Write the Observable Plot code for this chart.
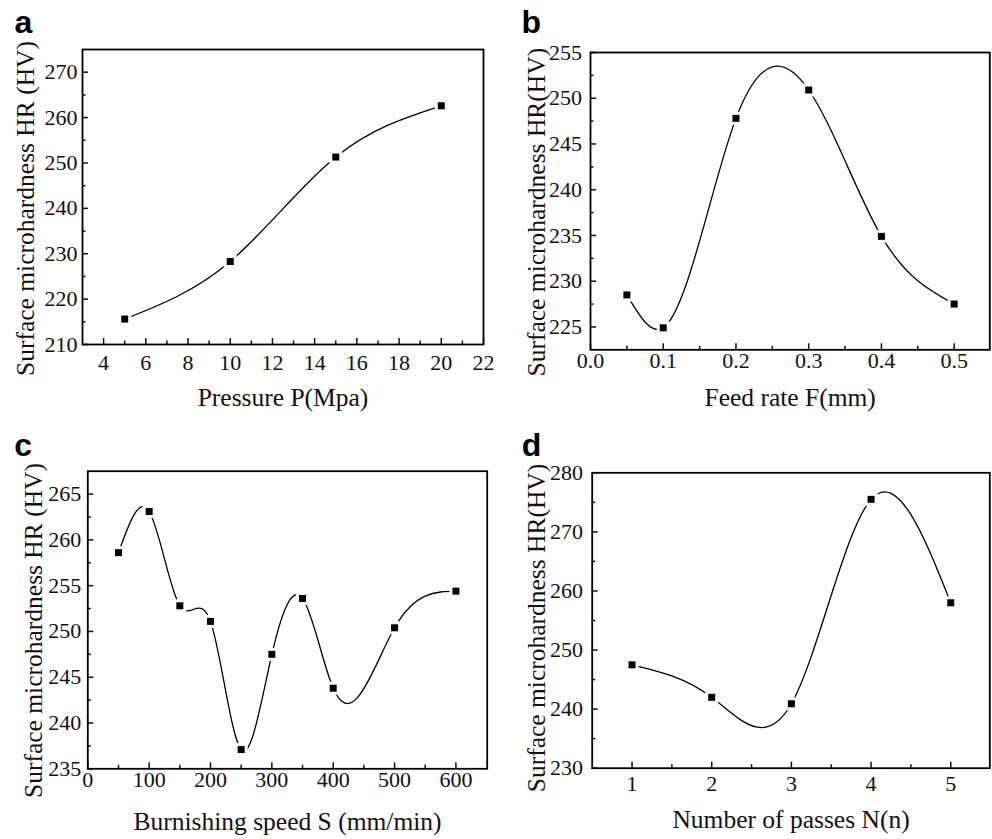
<!DOCTYPE html>
<html><head><meta charset="utf-8">
<script src="https://cdn.jsdelivr.net/npm/d3@7"></script>
<script src="https://cdn.jsdelivr.net/npm/@observablehq/plot@0.6"></script>
<style>
body{margin:0;background:#fff;}
#wrap{position:relative;width:992px;height:839px;overflow:hidden;background:#fff;}
#wrap > svg{position:absolute;}
</style></head><body><div id="wrap"></div>
<script>
// Panel a
const pressure = [5, 10, 15, 20];
const hardnessA = [215.6, 228.3, 251.3, 262.6];
// Panel b
const feedRate = [0.05, 0.1, 0.2, 0.3, 0.4, 0.5];
const hardnessB = [228.5, 224.9, 247.8, 250.9, 234.9, 227.5];
// Panel c
const speed = [50, 100, 150, 200, 250, 300, 350, 400, 500, 600];
const hardnessC = [258.6, 263.1, 252.8, 251.1, 237.1, 247.5, 253.6, 243.8, 250.4, 254.4];
// Panel d
const passes = [1, 2, 3, 4, 5];
const hardnessD = [247.5, 242.0, 240.9, 275.5, 258.0];

// Tick labels
const xTicksA = [4, 6, 8, 10, 12, 14, 16, 18, 20, 22];
const xMinorA = [5, 7, 9, 11, 13, 15, 17, 19, 21];
const yTicksA = [210, 220, 230, 240, 250, 260, 270];
const yMinorA = [215, 225, 235, 245, 255, 265];
const xTicksB = [0, 0.1, 0.2, 0.3, 0.4, 0.5];
const xMinorB = [0.05, 0.15, 0.25, 0.35, 0.45];
const yTicksB = [225, 230, 235, 240, 245, 250, 255];
const yMinorB = [227.5, 232.5, 237.5, 242.5, 247.5, 252.5];
const xTicksC = [0, 100, 200, 300, 400, 500, 600];
const xMinorC = [50, 150, 250, 350, 450, 550];
const yTicksC = [235, 240, 245, 250, 255, 260, 265];
const yMinorC = [237.5, 242.5, 247.5, 252.5, 257.5, 262.5];
const xTicksD = [1, 2, 3, 4, 5];
const xMinorD = [1.5, 2.5, 3.5, 4.5];
const yTicksD = [230, 240, 250, 260, 270, 280];
const yMinorD = [235, 245, 255, 265, 275];

// A d3-style curve: cubic spline parametrised by x (like Origin's "Spline" connector)
function curveSplineX(context) { return new SplineX(context); }
function SplineX(context) { this._context = context; }
SplineX.prototype = {
  areaStart() { this._line = 0; },
  areaEnd() { this._line = NaN; },
  lineStart() { this._x = []; this._y = []; },
  point(x, y) { this._x.push(+x); this._y.push(+y); },
  lineEnd() {
    const x = this._x, y = this._y, n = x.length, c = this._context;
    if (n) {
      this._line ? c.lineTo(x[0], y[0]) : c.moveTo(x[0], y[0]);
      if (n === 2) c.lineTo(x[1], y[1]);
      else if (n > 2) {
        const h = [], M = new Array(n).fill(0);
        for (let i = 0; i < n - 1; ++i) h.push(x[i + 1] - x[i]);
        const a = [], b = [], cc = [], r = [];
        for (let i = 1; i < n - 1; ++i) {
          a.push(h[i - 1]); b.push(2 * (h[i - 1] + h[i])); cc.push(h[i]);
          r.push(6 * ((y[i + 1] - y[i]) / h[i] - (y[i] - y[i - 1]) / h[i - 1]));
        }
        const m = b.length;
        for (let i = 1; i < m; ++i) {
          const w = a[i] / b[i - 1];
          b[i] -= w * cc[i - 1];
          r[i] -= w * r[i - 1];
        }
        const sol = new Array(m);
        sol[m - 1] = r[m - 1] / b[m - 1];
        for (let i = m - 2; i >= 0; --i) sol[i] = (r[i] - cc[i] * sol[i + 1]) / b[i];
        for (let i = 0; i < m; ++i) M[i + 1] = sol[i];
        for (let i = 0; i < n - 1; ++i) {
          const hi = h[i], sl = (y[i + 1] - y[i]) / hi;
          const d0 = sl - hi * (2 * M[i] + M[i + 1]) / 6;
          const d1 = sl + hi * (M[i] + 2 * M[i + 1]) / 6;
          c.bezierCurveTo(x[i] + hi / 3, y[i] + d0 * hi / 3, x[i + 1] - hi / 3, y[i + 1] - d1 * hi / 3, x[i + 1], y[i + 1]);
        }
      }
    }
    if (this._line || (this._line !== 0 && n === 1)) c.closePath();
    this._line = 1 - this._line;
    this._x = this._y = null;
  }
};

const serif = "'Liberation Serif', 'Times New Roman', serif";

const panels = [
  {left: 0, top: 0, letter: "a", xs: pressure, ys: hardnessA, xDomain: [3, 22], yDomain: [210, 275],
   xt: xTicksA, xm: xMinorA, yt: yTicksA, ym: yMinorA, fmt: d => String(d),
   ml: 82, mr: 13, mt: 49, mb: 76, xPad: 10, yPad: 5,
   xLabel: "Pressure P(Mpa)", yLabel: "Surface microhardness HR (HV)",
   xLabDy: 53, yLabDx: -57, yLabDy: 11.5, letDx: -68, letDy: -16.5},
  {left: 496, top: 0, letter: "b", xs: feedRate, ys: hardnessB, xDomain: [0, 0.549], yDomain: [222.5, 255],
   xt: xTicksB, xm: xMinorB, yt: yTicksB, ym: yMinorB, fmt: d3.format(".1f"),
   ml: 94, mr: 2.7, mt: 52, mb: 70.7, xPad: 3, yPad: 8.5,
   xLabel: "Feed rate F(mm)", yLabel: "Surface microhardness HR(HV)",
   xLabDy: 47.7, yLabDx: -54, yLabDy: 11, letDx: -69, letDy: -19.3},
  {left: 0, top: 420, letter: "c", xs: speed, ys: hardnessC, xDomain: [0, 651], yDomain: [235, 267.5],
   xt: xTicksC, xm: xMinorC, yt: yTicksC, ym: yMinorC, fmt: d => String(d),
   ml: 87.3, mr: 9.3, mt: 50.7, mb: 71.7, xPad: 2.4, yPad: 6.5,
   xLabel: "Burnishing speed S (mm/min)", yLabel: "Surface microhardness HR (HV)",
   xLabDy: 53.4, yLabDx: -54.3, yLabDy: 10.5, letDx: -73.5, letDy: -15.7},
  {left: 496, top: 420, letter: "d", xs: passes, ys: hardnessD, xDomain: [0.5, 5.49], yDomain: [230, 280],
   xt: xTicksD, xm: xMinorD, yt: yTicksD, ym: yMinorD, fmt: d => String(d),
   ml: 95.7, mr: 2.7, mt: 52.3, mb: 72.3, xPad: 7.3, yPad: 9.2,
   xLabel: "Number of passes N(n)", yLabel: "Surface microhardness HR(HV)",
   xLabDy: 51.3, yLabDx: -55.7, yLabDy: 7.5, letDx: -70.5, letDy: -17.3}
];

const wrap = document.getElementById("wrap");
for (const p of panels) {
  const data = p.xs.map((x, i) => ({x, y: p.ys[i]}));
  const chart = Plot.plot({
    width: 496, height: 420,
    marginLeft: p.ml, marginRight: p.mr, marginTop: p.mt, marginBottom: p.mb,
    x: {domain: p.xDomain, label: null},
    y: {domain: p.yDomain, label: null},
    style: {fontFamily: serif, fontSize: "22px", color: "#111", background: "transparent", overflow: "visible"},
    marks: [
      Plot.line(data, {x: "x", y: "y", curve: curveSplineX, stroke: "#000", strokeWidth: 1.3}),
      Plot.dot(data, {x: "x", y: "y", symbol: "square", r: 7.3, fill: "white", stroke: "none"}),
      Plot.dot(data, {x: "x", y: "y", symbol: "square", r: 3.95, fill: "#000", stroke: "none"}),
      Plot.axisX(p.xt, {tickSize: -6, tickFormat: () => "", strokeWidth: 1.5, label: null}),
      Plot.axisX(p.xm, {tickSize: -3.5, tickFormat: () => "", strokeWidth: 1.5, label: null}),
      Plot.axisX(p.xt, {tickSize: 0, tickPadding: p.xPad, tickFormat: p.fmt, fontSize: 22, fontFamily: serif, fontVariant: "normal", label: null}),
      Plot.axisY(p.yt, {tickSize: -6, tickFormat: () => "", strokeWidth: 1.5, label: null}),
      Plot.axisY(p.ym, {tickSize: -3.5, tickFormat: () => "", strokeWidth: 1.5, label: null}),
      Plot.axisY(p.yt, {tickSize: 0, tickPadding: p.yPad, tickFormat: d => String(d), fontSize: 22, fontFamily: serif, fontVariant: "normal", label: null}),
      Plot.frame({stroke: "#000", strokeWidth: 1.8}),
      Plot.text([p.xLabel], {text: d => d, frameAnchor: "bottom", dy: p.xLabDy, textAnchor: "middle", lineAnchor: "middle", fontSize: 25.5, fontFamily: serif}),
      Plot.text([p.yLabel], {text: d => d, frameAnchor: "left", rotate: -90, dx: p.yLabDx, dy: p.yLabDy, textAnchor: "middle", lineAnchor: "middle", fontSize: 25.5, fontFamily: serif}),
      Plot.text([p.letter], {text: d => d, frameAnchor: "top-left", dx: p.letDx, dy: p.letDy, textAnchor: "start", lineAnchor: "bottom",
        fontFamily: "'Liberation Sans', Arial, sans-serif", fontWeight: "bold", fontSize: 32, fill: "#000"})
    ]
  });
  chart.style.left = p.left + "px";
  chart.style.top = p.top + "px";
  chart.style.position = "absolute";
  wrap.appendChild(chart);
}
</script>
</body></html>
